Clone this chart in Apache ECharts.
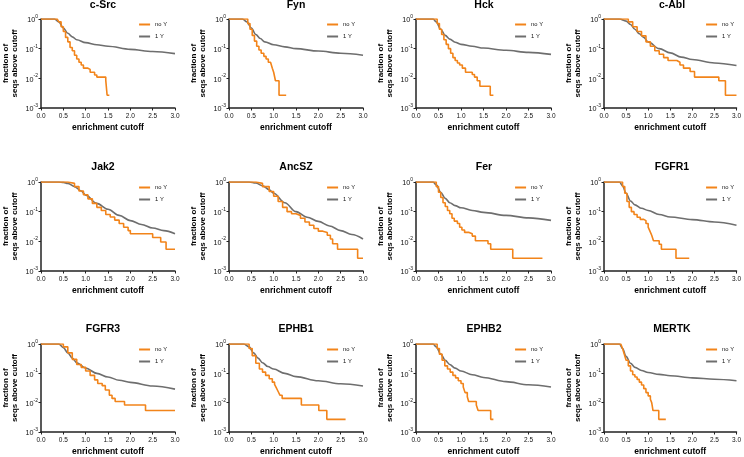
<!DOCTYPE html>
<html><head><meta charset="utf-8">
<script src="https://cdn.jsdelivr.net/npm/echarts@6/dist/echarts.min.js"></script>
<style>html,body{margin:0;padding:0;background:#fff}#c{width:744px;height:457px}</style>
</head><body><div id="c"></div>
<script>
// ---------- DATA ----------
const panelNames = ['c-Src','Fyn','Hck','c-Abl','Jak2','AncSZ','Fer','FGFR1','FGFR3','EPHB1','EPHB2','MERTK'];
const seriesNames = ['no Y','1 Y'];
const xAxisTitle = 'enrichment cutoff';
const yAxisTitle = 'fraction of\nseqs above cutoff';

// [enrichment cutoff, fraction of seqs above cutoff]
const noY_cSrc = [[0,1],[0.36,1],[0.4,0.8],[0.45,0.55],[0.5,0.38],[0.55,0.24],[0.6,0.17],[0.65,0.11],[0.7,0.085],[0.75,0.06],[0.8,0.045],[0.85,0.035],[0.9,0.028],[0.95,0.022],[1.05,0.02],[1.1,0.016],[1.2,0.013],[1.25,0.011],[1.4,0.011],[1.45,0.0085],[1.48,0.0027],[1.53,0.0027]];
const oneY_cSrc = [[0,1],[0.3,1],[0.4,0.8],[0.5,0.5],[0.6,0.33],[0.7,0.25],[0.8,0.2],[1.0,0.16],[1.25,0.135],[1.5,0.12],[2.0,0.095],[2.5,0.08],[3.0,0.068]];

const noY_Fyn = [[0,1],[0.37,1],[0.42,0.7],[0.47,0.45],[0.52,0.28],[0.57,0.18],[0.62,0.12],[0.67,0.09],[0.72,0.07],[0.78,0.055],[0.83,0.045],[0.88,0.035],[0.93,0.03],[0.97,0.022],[1.0,0.016],[1.04,0.0083],[1.12,0.0027],[1.28,0.0027]];
const oneY_Fyn = [[0,1],[0.3,1],[0.4,0.8],[0.5,0.5],[0.6,0.3],[0.7,0.22],[0.8,0.17],[1.0,0.135],[1.25,0.115],[1.5,0.1],[2.0,0.083],[2.5,0.07],[3.0,0.06]];

const noY_Hck = [[0,1],[0.42,1],[0.47,0.7],[0.52,0.45],[0.57,0.3],[0.62,0.2],[0.67,0.14],[0.72,0.1],[0.77,0.07],[0.82,0.05],[0.87,0.04],[0.92,0.033],[0.97,0.028],[1.03,0.022],[1.1,0.016],[1.25,0.0135],[1.3,0.011],[1.36,0.0083],[1.42,0.0054],[1.65,0.0027],[1.72,0.0027]];
const oneY_Hck = [[0,1],[0.38,1],[0.45,0.8],[0.55,0.45],[0.65,0.28],[0.75,0.21],[0.87,0.165],[1.0,0.14],[1.25,0.12],[1.5,0.105],[2.0,0.088],[2.5,0.075],[3.0,0.064]];

const noY_cAbl = [[0,1],[0.45,1],[0.55,0.8],[0.65,0.55],[0.75,0.38],[0.85,0.27],[0.95,0.17],[1.05,0.12],[1.15,0.085],[1.25,0.065],[1.35,0.05],[1.45,0.04],[1.65,0.035],[1.72,0.028],[1.8,0.022],[1.95,0.017],[2.05,0.011],[2.6,0.0083],[2.75,0.0027],[3.0,0.0027]];
const oneY_cAbl = [[0,1],[0.35,1],[0.5,0.85],[0.6,0.65],[0.7,0.45],[0.8,0.32],[0.9,0.24],[1.0,0.17],[1.25,0.1],[1.5,0.072],[1.75,0.052],[2.0,0.043],[2.5,0.033],[3.0,0.027]];

const noY_Jak2 = [[0,1],[0.45,1],[0.6,0.9],[0.75,0.7],[0.85,0.5],[0.95,0.37],[1.05,0.27],[1.15,0.19],[1.25,0.14],[1.35,0.11],[1.45,0.08],[1.55,0.066],[1.65,0.052],[1.75,0.04],[1.85,0.03],[1.95,0.023],[2.0,0.018],[2.5,0.0135],[2.68,0.0095],[2.8,0.0054],[3.0,0.0054]];
const oneY_Jak2 = [[0,1],[0.4,1],[0.5,0.97],[0.6,0.9],[0.75,0.7],[0.9,0.5],[1.0,0.36],[1.25,0.19],[1.5,0.12],[1.75,0.075],[2.0,0.05],[2.25,0.037],[2.5,0.028],[2.75,0.023],[3.0,0.018]];

const noY_AncSZ = [[0,1],[0.45,1],[0.6,0.9],[0.75,0.7],[0.9,0.48],[1.0,0.33],[1.1,0.22],[1.2,0.14],[1.3,0.1],[1.4,0.085],[1.5,0.075],[1.6,0.06],[1.7,0.045],[1.8,0.035],[1.9,0.027],[2.0,0.022],[2.1,0.02],[2.2,0.016],[2.27,0.012],[2.32,0.0083],[2.43,0.0054],[2.88,0.0027],[3.0,0.0027]];
const oneY_AncSZ = [[0,1],[0.45,1],[0.6,0.92],[0.75,0.75],[0.9,0.55],[1.0,0.42],[1.25,0.2],[1.5,0.1],[1.75,0.065],[2.0,0.047],[2.25,0.033],[2.5,0.023],[2.75,0.017],[3.0,0.012]];

const noY_Fer = [[0,1],[0.4,1],[0.45,0.7],[0.5,0.45],[0.55,0.3],[0.6,0.2],[0.65,0.15],[0.7,0.11],[0.75,0.085],[0.8,0.06],[0.85,0.048],[0.92,0.04],[0.97,0.03],[1.02,0.024],[1.08,0.02],[1.18,0.018],[1.25,0.015],[1.32,0.0105],[1.6,0.0083],[1.66,0.0054],[2.15,0.0027],[2.81,0.0027]];
const oneY_Fer = [[0,1],[0.38,1],[0.45,0.8],[0.55,0.45],[0.65,0.28],[0.75,0.2],[0.87,0.16],[1.0,0.135],[1.25,0.11],[1.5,0.095],[2.0,0.075],[2.5,0.062],[3.0,0.051]];

const noY_FGFR1 = [[0,1],[0.37,1],[0.42,0.7],[0.47,0.42],[0.52,0.22],[0.57,0.14],[0.62,0.1],[0.68,0.08],[0.75,0.065],[0.82,0.055],[0.9,0.05],[0.95,0.04],[1.0,0.03],[1.04,0.022],[1.08,0.016],[1.12,0.0105],[1.25,0.008],[1.3,0.0054],[1.63,0.0027],[1.93,0.0027]];
const oneY_FGFR1 = [[0,1],[0.35,1],[0.42,0.75],[0.5,0.42],[0.6,0.23],[0.7,0.17],[0.85,0.13],[1.0,0.11],[1.25,0.08],[1.5,0.066],[2.0,0.054],[2.5,0.045],[3.0,0.035]];

const noY_FGFR3 = [[0,1],[0.42,1],[0.5,0.8],[0.6,0.5],[0.7,0.3],[0.8,0.2],[0.9,0.16],[1.0,0.12],[1.1,0.085],[1.2,0.06],[1.27,0.045],[1.37,0.038],[1.44,0.027],[1.53,0.018],[1.59,0.014],[1.66,0.011],[1.87,0.0083],[2.34,0.0054],[3.0,0.0054]];
const oneY_FGFR3 = [[0,1],[0.4,1],[0.5,0.75],[0.6,0.5],[0.7,0.33],[0.8,0.23],[1.0,0.15],[1.25,0.1],[1.5,0.075],[1.75,0.058],[2.0,0.049],[2.5,0.037],[3.0,0.029]];

const noY_EPHB1 = [[0,1],[0.35,1],[0.45,0.7],[0.52,0.4],[0.6,0.22],[0.68,0.14],[0.75,0.11],[0.82,0.085],[0.9,0.065],[0.97,0.05],[1.02,0.042],[1.06,0.032],[1.1,0.024],[1.14,0.018],[1.19,0.014],[1.62,0.0083],[2.01,0.0054],[2.19,0.0027],[2.61,0.0027]];
const oneY_EPHB1 = [[0,1],[0.33,1],[0.45,0.8],[0.55,0.5],[0.65,0.33],[0.75,0.23],[0.87,0.17],[1.0,0.14],[1.25,0.1],[1.5,0.077],[2.0,0.056],[2.5,0.044],[3.0,0.037]];

const noY_EPHB2 = [[0,1],[0.42,1],[0.47,0.7],[0.52,0.45],[0.58,0.28],[0.64,0.18],[0.7,0.14],[0.76,0.11],[0.82,0.085],[0.88,0.07],[0.94,0.056],[1.0,0.045],[1.05,0.034],[1.09,0.022],[1.14,0.016],[1.17,0.011],[1.34,0.0083],[1.38,0.0054],[1.66,0.0027],[1.72,0.0027]];
const oneY_EPHB2 = [[0,1],[0.38,1],[0.45,0.8],[0.55,0.45],[0.65,0.28],[0.75,0.2],[0.87,0.15],[1.0,0.12],[1.25,0.09],[1.5,0.072],[2.0,0.052],[2.5,0.041],[3.0,0.034]];

const noY_MERTK = [[0,1],[0.38,1],[0.42,0.7],[0.46,0.45],[0.5,0.28],[0.55,0.18],[0.6,0.12],[0.65,0.09],[0.7,0.075],[0.75,0.062],[0.8,0.05],[0.85,0.04],[0.9,0.03],[0.95,0.022],[1.0,0.017],[1.05,0.013],[1.08,0.01],[1.11,0.0054],[1.24,0.0027],[1.4,0.0027]];
const oneY_MERTK = [[0,1],[0.35,1],[0.42,0.7],[0.5,0.38],[0.6,0.22],[0.7,0.16],[0.85,0.125],[1.0,0.107],[1.25,0.092],[1.5,0.083],[2.0,0.07],[2.5,0.063],[3.0,0.056]];

const noYSeries = [noY_cSrc,noY_Fyn,noY_Hck,noY_cAbl,noY_Jak2,noY_AncSZ,noY_Fer,noY_FGFR1,noY_FGFR3,noY_EPHB1,noY_EPHB2,noY_MERTK];
const oneYSeries = [oneY_cSrc,oneY_Fyn,oneY_Hck,oneY_cAbl,oneY_Jak2,oneY_AncSZ,oneY_Fer,oneY_FGFR1,oneY_FGFR3,oneY_EPHB1,oneY_EPHB2,oneY_MERTK];

// ---------- LAYOUT / STYLE ----------
const W = 744;
const colLeft = [41, 229, 416, 604];
const colWidth = [134, 134, 135, 138];
const rowTop = [19, 182, 344];
const rowHeight = [89, 89, 91];
const titleTop = [0, 162, 324];
const titleCX = [103, 296, 484, 672];
const FONT = 'Liberation Sans, Arial, Helvetica, sans-serif';
const ORANGE = '#F2841A';
const GREY = '#6E6E6E';
const AXIS = '#222';

const grid = [], xAxis = [], yAxis = [], series = [], title = [], legend = [];
panelNames.forEach((name, i) => {
  const r = Math.floor(i / 4), c = i % 4;
  const left = colLeft[c], top = rowTop[r], w = colWidth[c], h = rowHeight[r];
  grid.push({left: left, top: top, width: w, height: h, containLabel: false});
  xAxis.push({
    gridIndex: i, type: 'value', min: 0, max: 3, interval: 0.5,
    axisLine: {show: true, lineStyle: {color: AXIS, width: 1.5}},
    axisTick: {show: true, length: 2.5, lineStyle: {color: AXIS, width: 1}},
    splitLine: {show: false},
    axisLabel: {fontSize: 6.5, color: '#111', fontFamily: FONT, margin: 5,
      formatter: v => v.toFixed(1)},
    name: xAxisTitle, nameLocation: 'middle', nameGap: 15,
    nameTextStyle: {fontSize: 8.5, fontWeight: 'bold', color: '#000', fontFamily: FONT}
  });
  yAxis.push({
    gridIndex: i, type: 'log', logBase: 10, min: 0.001, max: 1,
    axisLine: {show: true, lineStyle: {color: AXIS, width: 1.5}},
    axisTick: {show: true, length: 2.5, lineStyle: {color: AXIS, width: 1}},
    minorTick: {show: false},
    splitLine: {show: false},
    axisLabel: {
      margin: 3, fontFamily: FONT,
      formatter: v => '{b|10}{s|' + Math.round(Math.log10(v)) + '}',
      rich: {
        b: {fontSize: 7.2, color: '#111', fontFamily: FONT, lineHeight: 10, verticalAlign: 'bottom'},
        s: {fontSize: 5, color: '#111', fontFamily: FONT, lineHeight: 6, verticalAlign: 'top'}
      }
    },
    name: yAxisTitle, nameLocation: 'middle', nameGap: 22,
    nameTextStyle: {fontSize: 8, lineHeight: 8.5, fontWeight: 'bold', color: '#000', fontFamily: FONT, align: 'center'}
  });
  title.push({
    text: name, left: titleCX[c], top: titleTop[r], textAlign: 'center', padding: 0,
    textStyle: {fontSize: 10.5, fontWeight: 'bold', color: '#000', fontFamily: FONT}
  });
  legend.push({
    data: seriesNames, orient: 'vertical', right: W - (left + w - 8), top: top + 2.5,
    icon: 'rect', itemWidth: 11, itemHeight: 2, itemGap: 6, padding: 0, selectedMode: false,
    textStyle: {fontSize: 5.8, color: '#111', fontFamily: FONT}
  });
  series.push({
    name: seriesNames[1], type: 'line', xAxisIndex: i, yAxisIndex: i,
    data: oneYSeries[i], showSymbol: false, symbol: 'none',
    smooth: 0.35, smoothMonotone: 'x', color: GREY,
    lineStyle: {color: GREY, width: 1.6}, z: 2
  });
  series.push({
    name: seriesNames[0], type: 'line', xAxisIndex: i, yAxisIndex: i,
    data: noYSeries[i], showSymbol: false, symbol: 'none', step: 'end', color: ORANGE,
    lineStyle: {color: ORANGE, width: 1.6}, z: 3
  });
});

const chart = echarts.init(document.getElementById('c'), null, {renderer: 'canvas'});
chart.setOption({animation: false, backgroundColor: '#fff', grid, xAxis, yAxis, series, title, legend});
</script>
</body></html>
